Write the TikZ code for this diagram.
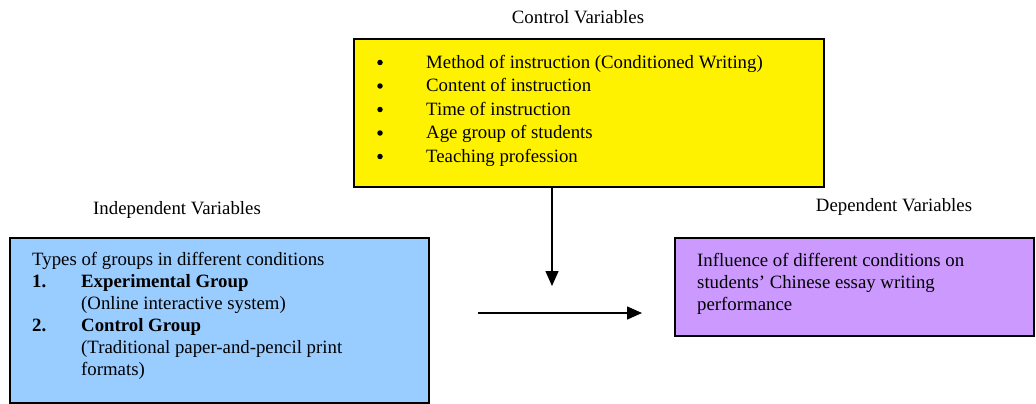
\documentclass[tikz,border=0pt]{standalone}
\usepackage{fontspec}
\setmainfont{Liberation Serif}
\usetikzlibrary{arrows.meta}
\definecolor{indepblue}{RGB}{153,204,255}
\definecolor{deplilac}{RGB}{204,153,255}

\begin{document}
\begin{tikzpicture}[x=1pt,y=-1pt,
  box/.style={draw=black, line width=1.5pt, inner sep=0pt},
  title/.style={font=\fontsize{18.8}{22}\selectfont, inner sep=0pt},
  txt/.style={font=\fontsize{18.8}{22}\selectfont, inner sep=0pt, anchor=base west},
  dot/.style={circle, fill=black, inner sep=0pt, minimum size=5.5pt},
  arr/.style={-{Triangle[length=15pt,width=13pt]}, line width=1.5pt}]
\useasboundingbox (0,0) rectangle (1036,404);

% boxes
\node[box, fill=yellow, minimum width=470pt, minimum height=148pt] (ctrl) at (589,113) {};
\node[box, fill=indepblue, minimum width=419pt, minimum height=165pt] (indep) at (219.5,320.5) {};
\node[box, fill=deplilac, minimum width=359pt, minimum height=98pt] (dep) at (854.5,287) {};

% titles
\node[title] (ctrltitle) at (578,17) {Control Variables};
\node[title] (indeptitle) at (177,210) {Independent Variables};
\node[title] (deptitle) at (894,207) {Dependent Variables};

% control variables
\foreach \i/\t in {1/Method of instruction (Conditioned Writing), 2/Content of instruction,
  3/Time of instruction, 4/Age group of students, 5/Teaching profession}
{
  \node[dot] (bul\i) at (380,39+23.5*\i) {};
  \node[txt] (ctrl\i) at (426,44.5+23.5*\i) {\t};
}

% independent variables
\node[txt] (indep1) at (32,265) {Types of groups in different conditions};
\node[txt] (num1) at (32,287) {\textbf{1.}};
\node[txt] (indep2) at (81,287) {\textbf{Experimental Group}};
\node[txt] (indep3) at (81,309) {(Online interactive system)};
\node[txt] (num2) at (32,331) {\textbf{2.}};
\node[txt] (indep4) at (81,331) {\textbf{Control Group}};
\node[txt] (indep5) at (81,353) {(Traditional paper-and-pencil print};
\node[txt] (indep6) at (81,375) {formats)};

% dependent variables
\node[txt] (dep1) at (697,266) {Influence of different conditions on};
\node[txt] (dep2) at (697,288) {students’ Chinese essay writing};
\node[txt] (dep3) at (697,310) {performance};

% arrows
\coordinate (ctrltip) at (552,286);
\draw[arr] (ctrl.south -| ctrltip) -- (ctrltip);

\coordinate (hstart) at (478,313);
\coordinate (hend) at (642,313);
\draw[arr] (hstart) -- (hend);

\end{tikzpicture}
\end{document}
